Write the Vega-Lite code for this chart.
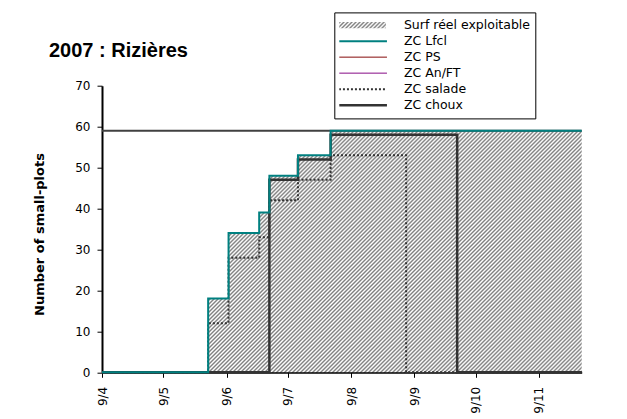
{
  "$schema": "https://vega.github.io/schema/vega-lite/v6.json",
  "width": 479.7,
  "height": 286.6,
  "autosize": {"type": "none"},
  "padding": {"left": 102, "top": 85.7, "right": 45.3, "bottom": 46.7},
  "background": "white",
  "title": {"text": "2007 : Rizières", "anchor": "start", "frame": "group", "offset": -64.8, "dx": -53, "baseline": "alphabetic", "font": "Liberation Sans", "fontSize": 20, "fontWeight": "bold", "color": "black"},
  "datasets": {
    "series": [
      {"s": "Surf réel exploitable", "d": "2007-04-09", "v": 0},
      {"s": "Surf réel exploitable", "d": "2007-05-31", "v": 18},
      {"s": "Surf réel exploitable", "d": "2007-06-10", "v": 34},
      {"s": "Surf réel exploitable", "d": "2007-06-25", "v": 39},
      {"s": "Surf réel exploitable", "d": "2007-06-30", "v": 48},
      {"s": "Surf réel exploitable", "d": "2007-07-14", "v": 53},
      {"s": "Surf réel exploitable", "d": "2007-07-30", "v": 59},
      {"s": "Surf réel exploitable", "d": "2007-11-30", "v": 59},
      {"s": "ZC Lfcl", "d": "2007-04-09", "v": 0},
      {"s": "ZC Lfcl", "d": "2007-05-31", "v": 18},
      {"s": "ZC Lfcl", "d": "2007-06-10", "v": 34},
      {"s": "ZC Lfcl", "d": "2007-06-25", "v": 39},
      {"s": "ZC Lfcl", "d": "2007-06-30", "v": 48},
      {"s": "ZC Lfcl", "d": "2007-07-14", "v": 53},
      {"s": "ZC Lfcl", "d": "2007-07-30", "v": 59},
      {"s": "ZC Lfcl", "d": "2007-11-30", "v": 59},
      {"s": "ZC salade", "d": "2007-04-09", "v": 0},
      {"s": "ZC salade", "d": "2007-05-31", "v": 12},
      {"s": "ZC salade", "d": "2007-06-10", "v": 28},
      {"s": "ZC salade", "d": "2007-06-25", "v": 33},
      {"s": "ZC salade", "d": "2007-06-30", "v": 42},
      {"s": "ZC salade", "d": "2007-07-14", "v": 47},
      {"s": "ZC salade", "d": "2007-07-30", "v": 53},
      {"s": "ZC salade", "d": "2007-09-05", "v": 0},
      {"s": "ZC salade", "d": "2007-11-30", "v": 0},
      {"s": "ZC choux", "d": "2007-04-09", "v": 0},
      {"s": "ZC choux", "d": "2007-06-30", "v": 47},
      {"s": "ZC choux", "d": "2007-07-14", "v": 52},
      {"s": "ZC choux", "d": "2007-07-30", "v": 58},
      {"s": "ZC choux", "d": "2007-09-30", "v": 0},
      {"s": "ZC choux", "d": "2007-11-30", "v": 0}
    ],
    "total": [{"v": 59}]
  },
  "data": {"name": "series"},
  "layer": [
    {
      "transform": [{"filter": "datum.s === 'Surf réel exploitable'"}],
      "mark": {"type": "area", "interpolate": "step-after",
        "fill": {"gradient": "linear", "x1": 0, "y1": 0, "x2": 1.3312, "y2": 0.6699, "stops": [
          {"offset":0,"color":"gray"},{"offset":0.0025,"color":"#fff"},{"offset":0.005,"color":"gray"},{"offset":0.0075,"color":"#fff"},
          {"offset":0.01,"color":"gray"},{"offset":0.0125,"color":"#fff"},{"offset":0.015,"color":"gray"},{"offset":0.0175,"color":"#fff"},
          {"offset":0.02,"color":"gray"},{"offset":0.0225,"color":"#fff"},{"offset":0.025,"color":"gray"},{"offset":0.0275,"color":"#fff"},
          {"offset":0.03,"color":"gray"},{"offset":0.0325,"color":"#fff"},{"offset":0.035,"color":"gray"},{"offset":0.0375,"color":"#fff"},
          {"offset":0.04,"color":"gray"},{"offset":0.0425,"color":"#fff"},{"offset":0.045,"color":"gray"},{"offset":0.0475,"color":"#fff"},
          {"offset":0.05,"color":"gray"},{"offset":0.0525,"color":"#fff"},{"offset":0.055,"color":"gray"},{"offset":0.0575,"color":"#fff"},
          {"offset":0.06,"color":"gray"},{"offset":0.0625,"color":"#fff"},{"offset":0.065,"color":"gray"},{"offset":0.0675,"color":"#fff"},
          {"offset":0.07,"color":"gray"},{"offset":0.0725,"color":"#fff"},{"offset":0.075,"color":"gray"},{"offset":0.0775,"color":"#fff"},
          {"offset":0.08,"color":"gray"},{"offset":0.0825,"color":"#fff"},{"offset":0.085,"color":"gray"},{"offset":0.0875,"color":"#fff"},
          {"offset":0.09,"color":"gray"},{"offset":0.0925,"color":"#fff"},{"offset":0.095,"color":"gray"},{"offset":0.0975,"color":"#fff"},
          {"offset":0.1,"color":"gray"},{"offset":0.1025,"color":"#fff"},{"offset":0.105,"color":"gray"},{"offset":0.1075,"color":"#fff"},
          {"offset":0.11,"color":"gray"},{"offset":0.1125,"color":"#fff"},{"offset":0.115,"color":"gray"},{"offset":0.1175,"color":"#fff"},
          {"offset":0.12,"color":"gray"},{"offset":0.1225,"color":"#fff"},{"offset":0.125,"color":"gray"},{"offset":0.1275,"color":"#fff"},
          {"offset":0.13,"color":"gray"},{"offset":0.1325,"color":"#fff"},{"offset":0.135,"color":"gray"},{"offset":0.1375,"color":"#fff"},
          {"offset":0.14,"color":"gray"},{"offset":0.1425,"color":"#fff"},{"offset":0.145,"color":"gray"},{"offset":0.1475,"color":"#fff"},
          {"offset":0.15,"color":"gray"},{"offset":0.1525,"color":"#fff"},{"offset":0.155,"color":"gray"},{"offset":0.1575,"color":"#fff"},
          {"offset":0.16,"color":"gray"},{"offset":0.1625,"color":"#fff"},{"offset":0.165,"color":"gray"},{"offset":0.1675,"color":"#fff"},
          {"offset":0.17,"color":"gray"},{"offset":0.1725,"color":"#fff"},{"offset":0.175,"color":"gray"},{"offset":0.1775,"color":"#fff"},
          {"offset":0.18,"color":"gray"},{"offset":0.1825,"color":"#fff"},{"offset":0.185,"color":"gray"},{"offset":0.1875,"color":"#fff"},
          {"offset":0.19,"color":"gray"},{"offset":0.1925,"color":"#fff"},{"offset":0.195,"color":"gray"},{"offset":0.1975,"color":"#fff"},
          {"offset":0.2,"color":"gray"},{"offset":0.2025,"color":"#fff"},{"offset":0.205,"color":"gray"},{"offset":0.2075,"color":"#fff"},
          {"offset":0.21,"color":"gray"},{"offset":0.2125,"color":"#fff"},{"offset":0.215,"color":"gray"},{"offset":0.2175,"color":"#fff"},
          {"offset":0.22,"color":"gray"},{"offset":0.2225,"color":"#fff"},{"offset":0.225,"color":"gray"},{"offset":0.2275,"color":"#fff"},
          {"offset":0.23,"color":"gray"},{"offset":0.2325,"color":"#fff"},{"offset":0.235,"color":"gray"},{"offset":0.2375,"color":"#fff"},
          {"offset":0.24,"color":"gray"},{"offset":0.2425,"color":"#fff"},{"offset":0.245,"color":"gray"},{"offset":0.2475,"color":"#fff"},
          {"offset":0.25,"color":"gray"},{"offset":0.2525,"color":"#fff"},{"offset":0.255,"color":"gray"},{"offset":0.2575,"color":"#fff"},
          {"offset":0.26,"color":"gray"},{"offset":0.2625,"color":"#fff"},{"offset":0.265,"color":"gray"},{"offset":0.2675,"color":"#fff"},
          {"offset":0.27,"color":"gray"},{"offset":0.2725,"color":"#fff"},{"offset":0.275,"color":"gray"},{"offset":0.2775,"color":"#fff"},
          {"offset":0.28,"color":"gray"},{"offset":0.2825,"color":"#fff"},{"offset":0.285,"color":"gray"},{"offset":0.2875,"color":"#fff"},
          {"offset":0.29,"color":"gray"},{"offset":0.2925,"color":"#fff"},{"offset":0.295,"color":"gray"},{"offset":0.2975,"color":"#fff"},
          {"offset":0.3,"color":"gray"},{"offset":0.3025,"color":"#fff"},{"offset":0.305,"color":"gray"},{"offset":0.3075,"color":"#fff"},
          {"offset":0.31,"color":"gray"},{"offset":0.3125,"color":"#fff"},{"offset":0.315,"color":"gray"},{"offset":0.3175,"color":"#fff"},
          {"offset":0.32,"color":"gray"},{"offset":0.3225,"color":"#fff"},{"offset":0.325,"color":"gray"},{"offset":0.3275,"color":"#fff"},
          {"offset":0.33,"color":"gray"},{"offset":0.3325,"color":"#fff"},{"offset":0.335,"color":"gray"},{"offset":0.3375,"color":"#fff"},
          {"offset":0.34,"color":"gray"},{"offset":0.3425,"color":"#fff"},{"offset":0.345,"color":"gray"},{"offset":0.3475,"color":"#fff"},
          {"offset":0.35,"color":"gray"},{"offset":0.3525,"color":"#fff"},{"offset":0.355,"color":"gray"},{"offset":0.3575,"color":"#fff"},
          {"offset":0.36,"color":"gray"},{"offset":0.3625,"color":"#fff"},{"offset":0.365,"color":"gray"},{"offset":0.3675,"color":"#fff"},
          {"offset":0.37,"color":"gray"},{"offset":0.3725,"color":"#fff"},{"offset":0.375,"color":"gray"},{"offset":0.3775,"color":"#fff"},
          {"offset":0.38,"color":"gray"},{"offset":0.3825,"color":"#fff"},{"offset":0.385,"color":"gray"},{"offset":0.3875,"color":"#fff"},
          {"offset":0.39,"color":"gray"},{"offset":0.3925,"color":"#fff"},{"offset":0.395,"color":"gray"},{"offset":0.3975,"color":"#fff"},
          {"offset":0.4,"color":"gray"},{"offset":0.4025,"color":"#fff"},{"offset":0.405,"color":"gray"},{"offset":0.4075,"color":"#fff"},
          {"offset":0.41,"color":"gray"},{"offset":0.4125,"color":"#fff"},{"offset":0.415,"color":"gray"},{"offset":0.4175,"color":"#fff"},
          {"offset":0.42,"color":"gray"},{"offset":0.4225,"color":"#fff"},{"offset":0.425,"color":"gray"},{"offset":0.4275,"color":"#fff"},
          {"offset":0.43,"color":"gray"},{"offset":0.4325,"color":"#fff"},{"offset":0.435,"color":"gray"},{"offset":0.4375,"color":"#fff"},
          {"offset":0.44,"color":"gray"},{"offset":0.4425,"color":"#fff"},{"offset":0.445,"color":"gray"},{"offset":0.4475,"color":"#fff"},
          {"offset":0.45,"color":"gray"},{"offset":0.4525,"color":"#fff"},{"offset":0.455,"color":"gray"},{"offset":0.4575,"color":"#fff"},
          {"offset":0.46,"color":"gray"},{"offset":0.4625,"color":"#fff"},{"offset":0.465,"color":"gray"},{"offset":0.4675,"color":"#fff"},
          {"offset":0.47,"color":"gray"},{"offset":0.4725,"color":"#fff"},{"offset":0.475,"color":"gray"},{"offset":0.4775,"color":"#fff"},
          {"offset":0.48,"color":"gray"},{"offset":0.4825,"color":"#fff"},{"offset":0.485,"color":"gray"},{"offset":0.4875,"color":"#fff"},
          {"offset":0.49,"color":"gray"},{"offset":0.4925,"color":"#fff"},{"offset":0.495,"color":"gray"},{"offset":0.4975,"color":"#fff"},
          {"offset":0.5,"color":"gray"},{"offset":0.5025,"color":"#fff"},{"offset":0.505,"color":"gray"},{"offset":0.5075,"color":"#fff"},
          {"offset":0.51,"color":"gray"},{"offset":0.5125,"color":"#fff"},{"offset":0.515,"color":"gray"},{"offset":0.5175,"color":"#fff"},
          {"offset":0.52,"color":"gray"},{"offset":0.5225,"color":"#fff"},{"offset":0.525,"color":"gray"},{"offset":0.5275,"color":"#fff"},
          {"offset":0.53,"color":"gray"},{"offset":0.5325,"color":"#fff"},{"offset":0.535,"color":"gray"},{"offset":0.5375,"color":"#fff"},
          {"offset":0.54,"color":"gray"},{"offset":0.5425,"color":"#fff"},{"offset":0.545,"color":"gray"},{"offset":0.5475,"color":"#fff"},
          {"offset":0.55,"color":"gray"},{"offset":0.5525,"color":"#fff"},{"offset":0.555,"color":"gray"},{"offset":0.5575,"color":"#fff"},
          {"offset":0.56,"color":"gray"},{"offset":0.5625,"color":"#fff"},{"offset":0.565,"color":"gray"},{"offset":0.5675,"color":"#fff"},
          {"offset":0.57,"color":"gray"},{"offset":0.5725,"color":"#fff"},{"offset":0.575,"color":"gray"},{"offset":0.5775,"color":"#fff"},
          {"offset":0.58,"color":"gray"},{"offset":0.5825,"color":"#fff"},{"offset":0.585,"color":"gray"},{"offset":0.5875,"color":"#fff"},
          {"offset":0.59,"color":"gray"},{"offset":0.5925,"color":"#fff"},{"offset":0.595,"color":"gray"},{"offset":0.5975,"color":"#fff"},
          {"offset":0.6,"color":"gray"},{"offset":0.6025,"color":"#fff"},{"offset":0.605,"color":"gray"},{"offset":0.6075,"color":"#fff"},
          {"offset":0.61,"color":"gray"},{"offset":0.6125,"color":"#fff"},{"offset":0.615,"color":"gray"},{"offset":0.6175,"color":"#fff"},
          {"offset":0.62,"color":"gray"},{"offset":0.6225,"color":"#fff"},{"offset":0.625,"color":"gray"},{"offset":0.6275,"color":"#fff"},
          {"offset":0.63,"color":"gray"},{"offset":0.6325,"color":"#fff"},{"offset":0.635,"color":"gray"},{"offset":0.6375,"color":"#fff"},
          {"offset":0.64,"color":"gray"},{"offset":0.6425,"color":"#fff"},{"offset":0.645,"color":"gray"},{"offset":0.6475,"color":"#fff"},
          {"offset":0.65,"color":"gray"},{"offset":0.6525,"color":"#fff"},{"offset":0.655,"color":"gray"},{"offset":0.6575,"color":"#fff"},
          {"offset":0.66,"color":"gray"},{"offset":0.6625,"color":"#fff"},{"offset":0.665,"color":"gray"},{"offset":0.6675,"color":"#fff"},
          {"offset":0.67,"color":"gray"},{"offset":0.6725,"color":"#fff"},{"offset":0.675,"color":"gray"},{"offset":0.6775,"color":"#fff"},
          {"offset":0.68,"color":"gray"},{"offset":0.6825,"color":"#fff"},{"offset":0.685,"color":"gray"},{"offset":0.6875,"color":"#fff"},
          {"offset":0.69,"color":"gray"},{"offset":0.6925,"color":"#fff"},{"offset":0.695,"color":"gray"},{"offset":0.6975,"color":"#fff"},
          {"offset":0.7,"color":"gray"},{"offset":0.7025,"color":"#fff"},{"offset":0.705,"color":"gray"},{"offset":0.7075,"color":"#fff"},
          {"offset":0.71,"color":"gray"},{"offset":0.7125,"color":"#fff"},{"offset":0.715,"color":"gray"},{"offset":0.7175,"color":"#fff"},
          {"offset":0.72,"color":"gray"},{"offset":0.7225,"color":"#fff"},{"offset":0.725,"color":"gray"},{"offset":0.7275,"color":"#fff"},
          {"offset":0.73,"color":"gray"},{"offset":0.7325,"color":"#fff"},{"offset":0.735,"color":"gray"},{"offset":0.7375,"color":"#fff"},
          {"offset":0.74,"color":"gray"},{"offset":0.7425,"color":"#fff"},{"offset":0.745,"color":"gray"},{"offset":0.7475,"color":"#fff"},
          {"offset":0.75,"color":"gray"},{"offset":0.7525,"color":"#fff"},{"offset":0.755,"color":"gray"},{"offset":0.7575,"color":"#fff"},
          {"offset":0.76,"color":"gray"},{"offset":0.7625,"color":"#fff"},{"offset":0.765,"color":"gray"},{"offset":0.7675,"color":"#fff"},
          {"offset":0.77,"color":"gray"},{"offset":0.7725,"color":"#fff"},{"offset":0.775,"color":"gray"},{"offset":0.7775,"color":"#fff"},
          {"offset":0.78,"color":"gray"},{"offset":0.7825,"color":"#fff"},{"offset":0.785,"color":"gray"},{"offset":0.7875,"color":"#fff"},
          {"offset":0.79,"color":"gray"},{"offset":0.7925,"color":"#fff"},{"offset":0.795,"color":"gray"},{"offset":0.7975,"color":"#fff"},
          {"offset":0.8,"color":"gray"},{"offset":0.8025,"color":"#fff"},{"offset":0.805,"color":"gray"},{"offset":0.8075,"color":"#fff"},
          {"offset":0.81,"color":"gray"},{"offset":0.8125,"color":"#fff"},{"offset":0.815,"color":"gray"},{"offset":0.8175,"color":"#fff"},
          {"offset":0.82,"color":"gray"},{"offset":0.8225,"color":"#fff"},{"offset":0.825,"color":"gray"},{"offset":0.8275,"color":"#fff"},
          {"offset":0.83,"color":"gray"},{"offset":0.8325,"color":"#fff"},{"offset":0.835,"color":"gray"},{"offset":0.8375,"color":"#fff"},
          {"offset":0.84,"color":"gray"},{"offset":0.8425,"color":"#fff"},{"offset":0.845,"color":"gray"},{"offset":0.8475,"color":"#fff"},
          {"offset":0.85,"color":"gray"},{"offset":0.8525,"color":"#fff"},{"offset":0.855,"color":"gray"},{"offset":0.8575,"color":"#fff"},
          {"offset":0.86,"color":"gray"},{"offset":0.8625,"color":"#fff"},{"offset":0.865,"color":"gray"},{"offset":0.8675,"color":"#fff"},
          {"offset":0.87,"color":"gray"},{"offset":0.8725,"color":"#fff"},{"offset":0.875,"color":"gray"},{"offset":0.8775,"color":"#fff"},
          {"offset":0.88,"color":"gray"},{"offset":0.8825,"color":"#fff"},{"offset":0.885,"color":"gray"},{"offset":0.8875,"color":"#fff"},
          {"offset":0.89,"color":"gray"},{"offset":0.8925,"color":"#fff"},{"offset":0.895,"color":"gray"},{"offset":0.8975,"color":"#fff"},
          {"offset":0.9,"color":"gray"},{"offset":0.9025,"color":"#fff"},{"offset":0.905,"color":"gray"},{"offset":0.9075,"color":"#fff"}
        ]}},
      "encoding": {
        "x": {"field": "d", "type": "temporal", "title": null,
          "scale": {"type": "utc", "nice": false, "domain": [{"year": 2007, "month": 4, "date": 9, "utc": true}, {"year": 2007, "month": 11, "date": 30, "utc": true}]},
          "axis": {"values": [{"year": 2007, "month": 4, "date": 9, "utc": true}, {"year": 2007, "month": 5, "date": 9, "utc": true}, {"year": 2007, "month": 6, "date": 9, "utc": true}, {"year": 2007, "month": 7, "date": 9, "utc": true}, {"year": 2007, "month": 8, "date": 9, "utc": true}, {"year": 2007, "month": 9, "date": 9, "utc": true}, {"year": 2007, "month": 10, "date": 9, "utc": true}, {"year": 2007, "month": 11, "date": 9, "utc": true}],
            "labelExpr": "utcFormat(datum.value, '%-d/%-m')", "labelAngle": -90, "grid": false, "tickSize": 5, "labelPadding": 9}},
        "y": {"field": "v", "type": "quantitative", "title": "Number of small-plots",
          "scale": {"domain": [0, 70], "nice": false},
          "axis": {"values": [0, 10, 20, 30, 40, 50, 60, 70], "grid": false, "tickSize": 5, "labelPadding": 7, "titleX": -59, "titleY": 148.3, "titleAngle": 270, "titleAlign": "center", "titleBaseline": "alphabetic", "titleFont": "DejaVu Sans", "titleFontSize": 13, "titleFontWeight": "bold"}}
      }
    },
    {
      "data": {"name": "total"},
      "mark": {"type": "rule", "color": "#404040", "strokeWidth": 2},
      "encoding": {
        "y": {"field": "v", "type": "quantitative"}
      }
    },
    {
      "transform": [{"filter": "datum.s === 'ZC choux'"}],
      "mark": {"type": "line", "interpolate": "step-after", "strokeWidth": 2.5},
      "encoding": {
        "x": {"field": "d", "type": "temporal"},
        "y": {"field": "v", "type": "quantitative"},
        "color": {"field": "s", "type": "nominal", "title": null,
          "scale": {"domain": ["Surf réel exploitable", "ZC Lfcl", "ZC PS", "ZC An/FT", "ZC salade", "ZC choux"], "range": ["#a6a6a6", "#008080", "#800000", "#800080", "#333333", "#333333"]},
          "legend": {
            "orient": "none", "legendX": 232.3, "legendY": -73.3,
            "symbolType": "stroke", "symbolSize": 2704, "symbolOffset": 15.4, "labelOffset": 36.7,
            "clipHeight": 15.5, "rowPadding": 0, "padding": 5,
            "strokeColor": "black", "fillColor": "white",
            "labelFont": "DejaVu Sans", "labelFontSize": 12.5, "labelColor": "black", "labelLimit": 300,
            "encode": {"symbols": {"update": {
              "shape": {"signal": "datum.value === 'Surf réel exploitable' ? 'M-0.96,-0.12H0.96V0.12H-0.96Z' : 'stroke'"},
              "fill": {"signal": "datum.value === 'Surf réel exploitable' ? {gradient: 'linear', x1: 0, y1: 0, x2: 1.108, y2: 0.1385, stops: [{offset: 0, color: 'gray'}, {offset: 0.0357, color: '#fff'}, {offset: 0.0714, color: 'gray'}, {offset: 0.1071, color: '#fff'}, {offset: 0.1429, color: 'gray'}, {offset: 0.1786, color: '#fff'}, {offset: 0.2143, color: 'gray'}, {offset: 0.25, color: '#fff'}, {offset: 0.2857, color: 'gray'}, {offset: 0.3214, color: '#fff'}, {offset: 0.3571, color: 'gray'}, {offset: 0.3929, color: '#fff'}, {offset: 0.4286, color: 'gray'}, {offset: 0.4643, color: '#fff'}, {offset: 0.5, color: 'gray'}, {offset: 0.5357, color: '#fff'}, {offset: 0.5714, color: 'gray'}, {offset: 0.6071, color: '#fff'}, {offset: 0.6429, color: 'gray'}, {offset: 0.6786, color: '#fff'}, {offset: 0.7143, color: 'gray'}, {offset: 0.75, color: '#fff'}, {offset: 0.7857, color: 'gray'}, {offset: 0.8214, color: '#fff'}, {offset: 0.8571, color: 'gray'}, {offset: 0.8929, color: '#fff'}, {offset: 0.9286, color: 'gray'}, {offset: 0.9643, color: '#fff'}, {offset: 1, color: 'gray'}]} : 'transparent'"},
              "strokeWidth": {"signal": "datum.value === 'Surf réel exploitable' ? 0 : datum.value === 'ZC choux' ? 2.5 : (datum.value === 'ZC Lfcl' || datum.value === 'ZC salade') ? 2 : 1"},
              "strokeDash": {"signal": "datum.value === 'ZC salade' ? [2, 2] : [1, 0]"}
            }}}
          }}
      }
    },
    {
      "transform": [{"filter": "datum.s === 'ZC salade'"}],
      "mark": {"type": "line", "interpolate": "step-after", "strokeWidth": 2, "strokeDash": [2, 2]},
      "encoding": {
        "x": {"field": "d", "type": "temporal"},
        "y": {"field": "v", "type": "quantitative"},
        "color": {"field": "s", "type": "nominal", "title": null,
          "scale": {"domain": ["Surf réel exploitable", "ZC Lfcl", "ZC PS", "ZC An/FT", "ZC salade", "ZC choux"], "range": ["#a6a6a6", "#008080", "#800000", "#800080", "#333333", "#333333"]}}
      }
    },
    {
      "transform": [{"filter": "datum.s === 'ZC Lfcl'"}],
      "mark": {"type": "line", "interpolate": "step-after", "strokeWidth": 2},
      "encoding": {
        "x": {"field": "d", "type": "temporal"},
        "y": {"field": "v", "type": "quantitative"},
        "color": {"field": "s", "type": "nominal", "title": null,
          "scale": {"domain": ["Surf réel exploitable", "ZC Lfcl", "ZC PS", "ZC An/FT", "ZC salade", "ZC choux"], "range": ["#a6a6a6", "#008080", "#800000", "#800080", "#333333", "#333333"]}}
      }
    }
  ],
  "config": {
    "view": {"stroke": null},
    "axis": {"domainColor": "black", "domainWidth": 2, "tickColor": "black", "tickWidth": 1, "labelColor": "black", "titleColor": "black", "labelFont": "DejaVu Sans", "labelFontSize": 12}
  }
}
